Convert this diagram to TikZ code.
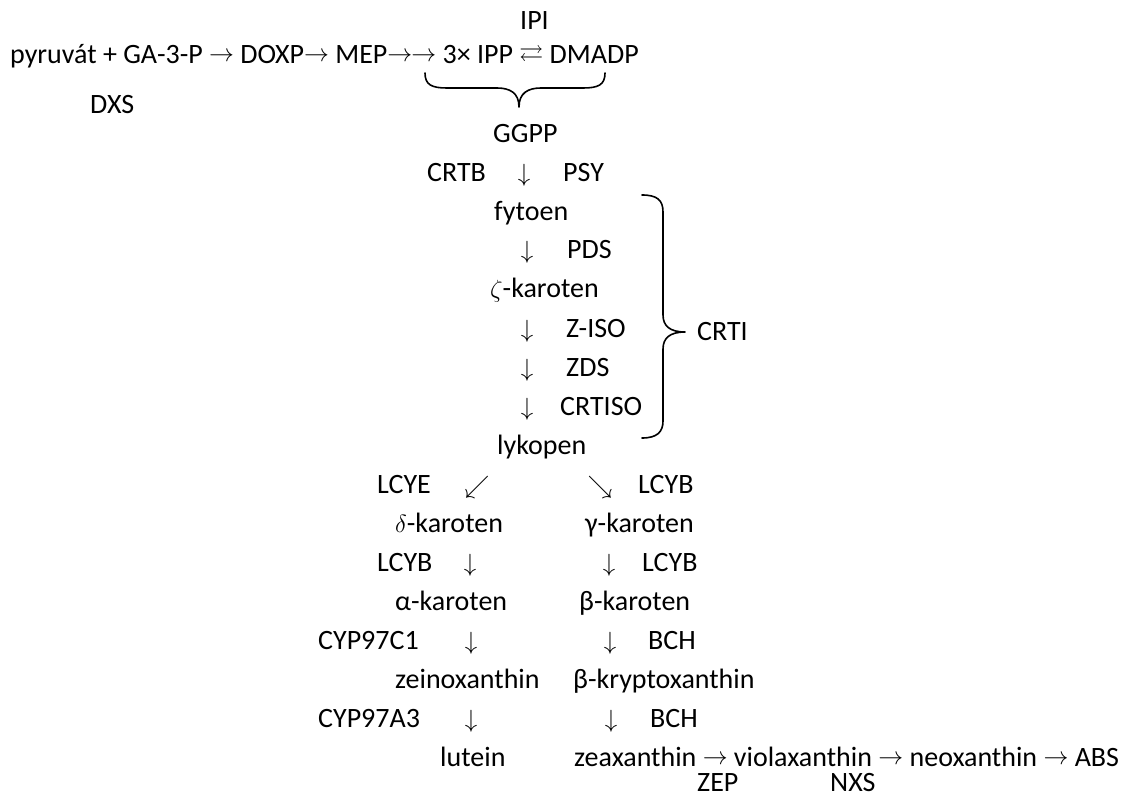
\documentclass[tikz,border=0pt]{standalone}
\usepackage{amssymb}
\usepackage{fontspec}
\setmainfont{Carlito}
\newcommand{\myarr}[1]{\raisebox{2pt}{\fontsize{24}{26}\selectfont$#1$}}
\begin{document}
\begin{tikzpicture}[x=1pt,y=-1pt,
  lbl/.style={anchor=base west, inner sep=0pt, yshift=-2pt, font=\fontsize{28}{32}\selectfont},
  arw/.style={anchor=base, inner sep=0pt, yshift=-2pt, font=\fontsize{24}{26}\selectfont},
  brace/.style={line width=1.6pt, line cap=round, line join=round}]
\path[use as bounding box, fill=white] (0,0) rectangle (1126,799);
% top
\node[lbl] (ipi) at (520,28) {IPI};
\node[lbl] (row1) at (10,62) {pyruvát + GA-3-P \myarr{\rightarrow} DOXP\myarr{\rightarrow} MEP\myarr{\rightarrow}\kern-1pt\myarr{\rightarrow} 3× IPP \myarr{\rightleftarrows} DMADP};
\node[lbl] (dxs) at (90,112) {DXS};
\draw[brace] (425,73) .. controls (425,85) and (432,88) .. (447,88) -- (497,88)
  .. controls (510,88) and (519,93) .. (519,107)
  .. controls (519,93) and (528,88) .. (541,88) -- (583,88)
  .. controls (598,88) and (605,85) .. (605,73);
\node[lbl] (ggpp) at (493,141) {GGPP};
\node[lbl] (crtb) at (427,180) {CRTB};
\node[arw] (a1) at (524,180) {$\downarrow$};
\node[lbl] (psy) at (563,180) {PSY};
\node[lbl] (fytoen) at (494,219) {fytoen};
\node[arw] (a2) at (527,257) {$\downarrow$};
\node[lbl] (pds) at (567,257) {PDS};
\node[lbl] (zeta) at (490,296) {$\zeta$-karoten};
\node[arw] (a3) at (527,335) {$\downarrow$};
\node[lbl] (ziso) at (566,335) {Z-ISO};
\node[arw] (a4) at (527,374) {$\downarrow$};
\node[lbl] (zds) at (566,374) {ZDS};
\node[arw] (a5) at (527,413) {$\downarrow$};
\node[lbl] (crtiso) at (560,413) {CRTISO};
\node[lbl] (lykopen) at (497,452) {lykopen};
\draw[brace] (642,195) .. controls (657,195) and (663,200) .. (663,212) -- (663,315)
  .. controls (663,326) and (670,332) .. (685,332)
  .. controls (670,332) and (663,338) .. (663,349) -- (663,421)
  .. controls (663,432) and (657,438) .. (642,438);
\node[lbl] (crti) at (697,338) {CRTI};
% branches
\node[lbl] (lcye) at (377,491) {LCYE};
\node[arw] (sw) at (477,491) {$\swarrow$};
\node[arw] (se) at (600,491) {$\searrow$};
\node[lbl] (lcyb1) at (638,491) {LCYB};
\node[lbl] (delta) at (395,530) {$\delta$-karoten};
\node[lbl] (gamma) at (585,530) {γ-karoten};
\node[lbl] (lcyb2) at (377,569) {LCYB};
\node[arw] (a6) at (470,569) {$\downarrow$};
\node[arw] (a7) at (609,569) {$\downarrow$};
\node[lbl] (lcyb3) at (642,569) {LCYB};
\node[lbl] (alpha) at (395,608) {α-karoten};
\node[lbl] (beta) at (579,608) {β-karoten};
\node[lbl] (cypc) at (318,647) {CYP97C1};
\node[arw] (a8) at (471,647) {$\downarrow$};
\node[arw] (a9) at (610,647) {$\downarrow$};
\node[lbl] (bch1) at (648,647) {BCH};
\node[lbl] (zein) at (395,686) {zeinoxanthin};
\node[lbl] (kryp) at (573,686) {β-kryptoxanthin};
\node[lbl] (cypa) at (318,725) {CYP97A3};
\node[arw] (a10) at (471,725) {$\downarrow$};
\node[arw] (a11) at (611,725) {$\downarrow$};
\node[lbl] (bch2) at (650,725) {BCH};
\node[lbl] (lutein) at (440,764) {lutein};
\node[lbl] (zeax) at (574,764) {zeaxanthin \myarr{\rightarrow} violaxanthin \myarr{\rightarrow} neoxanthin \myarr{\rightarrow} ABS};
\node[lbl, text depth=0pt] (zep) at (697,789) {ZEP};
\node[lbl, text depth=0pt] (nxs) at (830,789) {NXS};
\end{tikzpicture}
\end{document}
